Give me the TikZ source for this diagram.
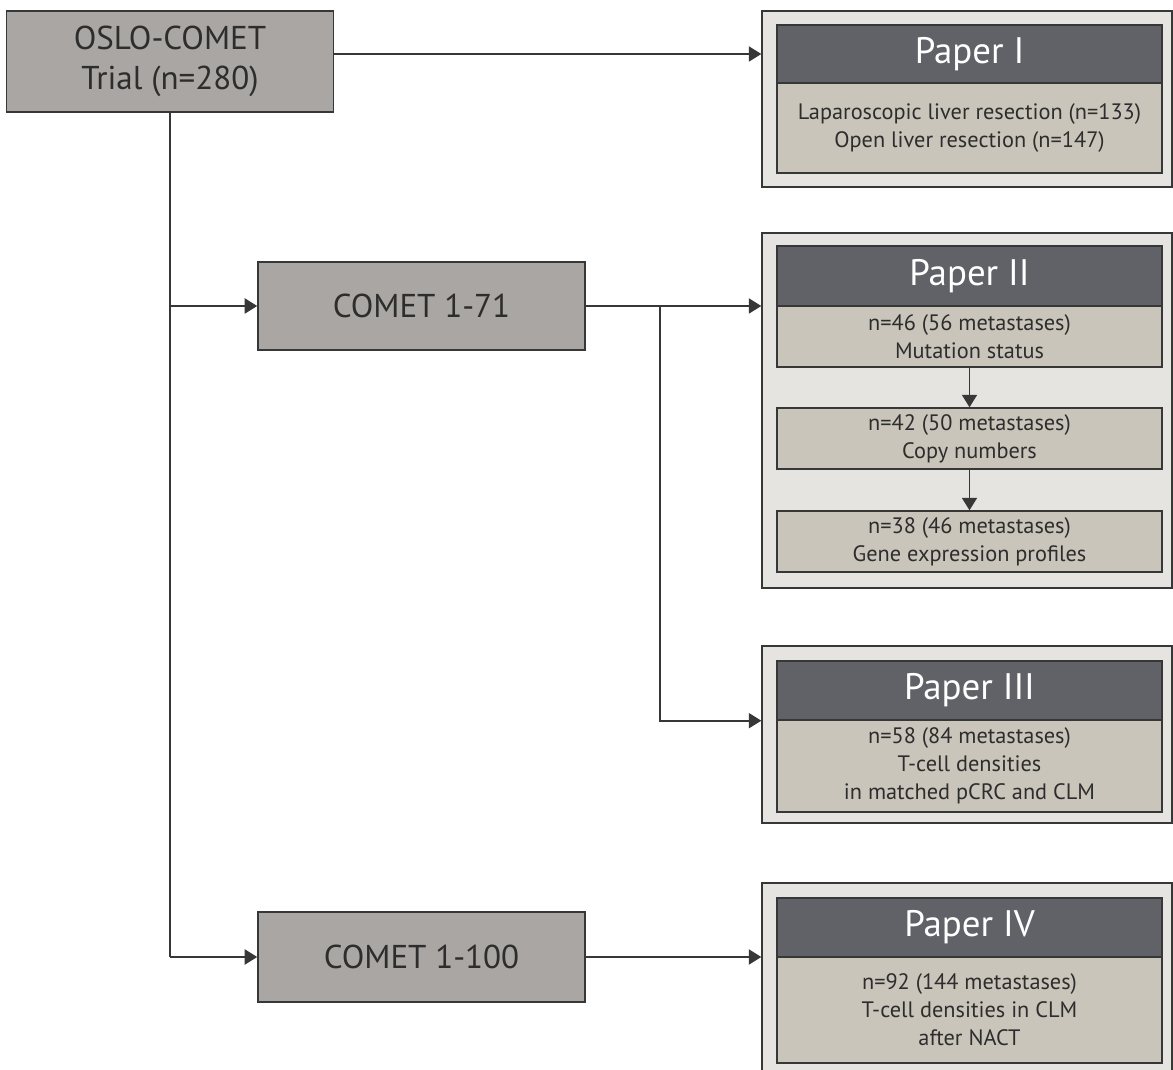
\documentclass[tikz,border=0pt]{standalone}
\usepackage{fontspec}
\setmainfont{PT Sans}
\usetikzlibrary{arrows.meta, positioning}
\definecolor{boxgray}{RGB}{169,166,163}
\definecolor{panelgray}{RGB}{230,228,224}
\definecolor{headgray}{RGB}{96,98,103}
\definecolor{bodygray}{RGB}{201,197,186}
\definecolor{linegray}{RGB}{55,55,55}
\definecolor{textgray}{RGB}{45,45,45}

\begin{document}
\begin{tikzpicture}[x=0.02cm, y=-0.02cm,
    trialbox/.style={draw=linegray, line width=0.9pt, fill=boxgray, text=textgray, align=center,
        minimum width=6.54cm, inner sep=0pt, font=\fontsize{18.8}{22.7}\selectfont},
    panel/.style={draw=linegray, line width=0.8pt, fill=panelgray, minimum width=8.2cm, inner sep=0pt},
    head/.style={draw=linegray, line width=0.8pt, fill=headgray, text=white, minimum width=7.7cm,
        inner sep=0pt, font=\fontsize{21}{24}\selectfont},
    body/.style={draw=linegray, line width=0.8pt, fill=bodygray, text=textgray, minimum width=7.7cm,
        align=center, inner sep=0pt, font=\fontsize{12.7}{15.9}\selectfont},
    link/.style={draw=linegray, line width=1.1pt},
    arr/.style={link, -{Triangle[length=0.25cm, width=0.3cm]}}]
    \useasboundingbox (0,0) rectangle (1173,1070);

    % source boxes
    \node[trialbox, minimum height=2.02cm] (oslo) at (170,61.5) {OSLO-COMET\\Trial (n=280)};
    \node[trialbox, minimum height=1.76cm] (c71) at (421.5,306) {COMET 1-71};
    \node[trialbox, minimum height=1.8cm] (c100) at (421.5,957) {COMET 1-100};

    % Paper I
    \node[panel, minimum height=3.52cm] (p1) at (967,99) {};
    \node[head, minimum height=1.16cm] (h1) at (969.5,54) {Paper I};
    \node[body, minimum height=1.8cm] (b1) at (969.5,128) {Laparoscopic liver resection (n=133)\\Open liver resection (n=147)};

    % Paper II
    \node[panel, minimum height=7.1cm] (p2) at (967,410.5) {};
    \node[head, minimum height=1.2cm] (h2) at (969.5,276) {Paper II};
    \node[body, minimum height=1.22cm] (b21) at (969.5,336.5) {n=46 (56 metastases)\\Mutation status};
    \node[body, minimum height=1.22cm] (b22) at (969.5,438.5) {n=42 (50 metastases)\\Copy numbers};
    \node[body, minimum height=1.22cm] (b23) at (969.5,541.5) {n=38 (46 metastases)\\Gene expression profiles};
    \draw[arr] (b21.south) -- (b22.north);
    \draw[arr] (b22.south) -- (b23.north);

    % Paper III
    \node[panel, minimum height=3.54cm] (p3) at (967,734.5) {};
    \node[head, minimum height=1.18cm] (h3) at (969.5,690.5) {Paper III};
    \node[body, minimum height=1.84cm] (b3) at (969.5,766) {n=58 (84 metastases)\\T-cell densities\\in matched pCRC and CLM};

    % Paper IV
    \node[panel, minimum height=3.84cm] (p4) at (967,979) {};
    \node[head, minimum height=1.18cm] (h4) at (969.5,927.5) {Paper IV};
    \node[body, minimum height=2.12cm] (b4) at (969.5,1010) {n=92 (144 metastases)\\T-cell densities in CLM\\after NACT};

    % connectors
    \coordinate (trunk) at (oslo.south |- c100);
    \coordinate (fork) at (660,306);
    \draw[arr] (oslo.east |- h1) -- (p1.west |- h1);
    \draw[link] (oslo.south) -- (trunk);
    \draw[arr] (oslo.south |- c71) -- (c71.west);
    \draw[arr] (trunk) -- (c100.west);
    \draw[arr] (c71.east) -- (p2.west |- c71);
    \draw[arr] (fork) |- (p3.west |- h3.south);
    \draw[arr] (c100.east) -- (p4.west |- c100);
\end{tikzpicture}
\end{document}
